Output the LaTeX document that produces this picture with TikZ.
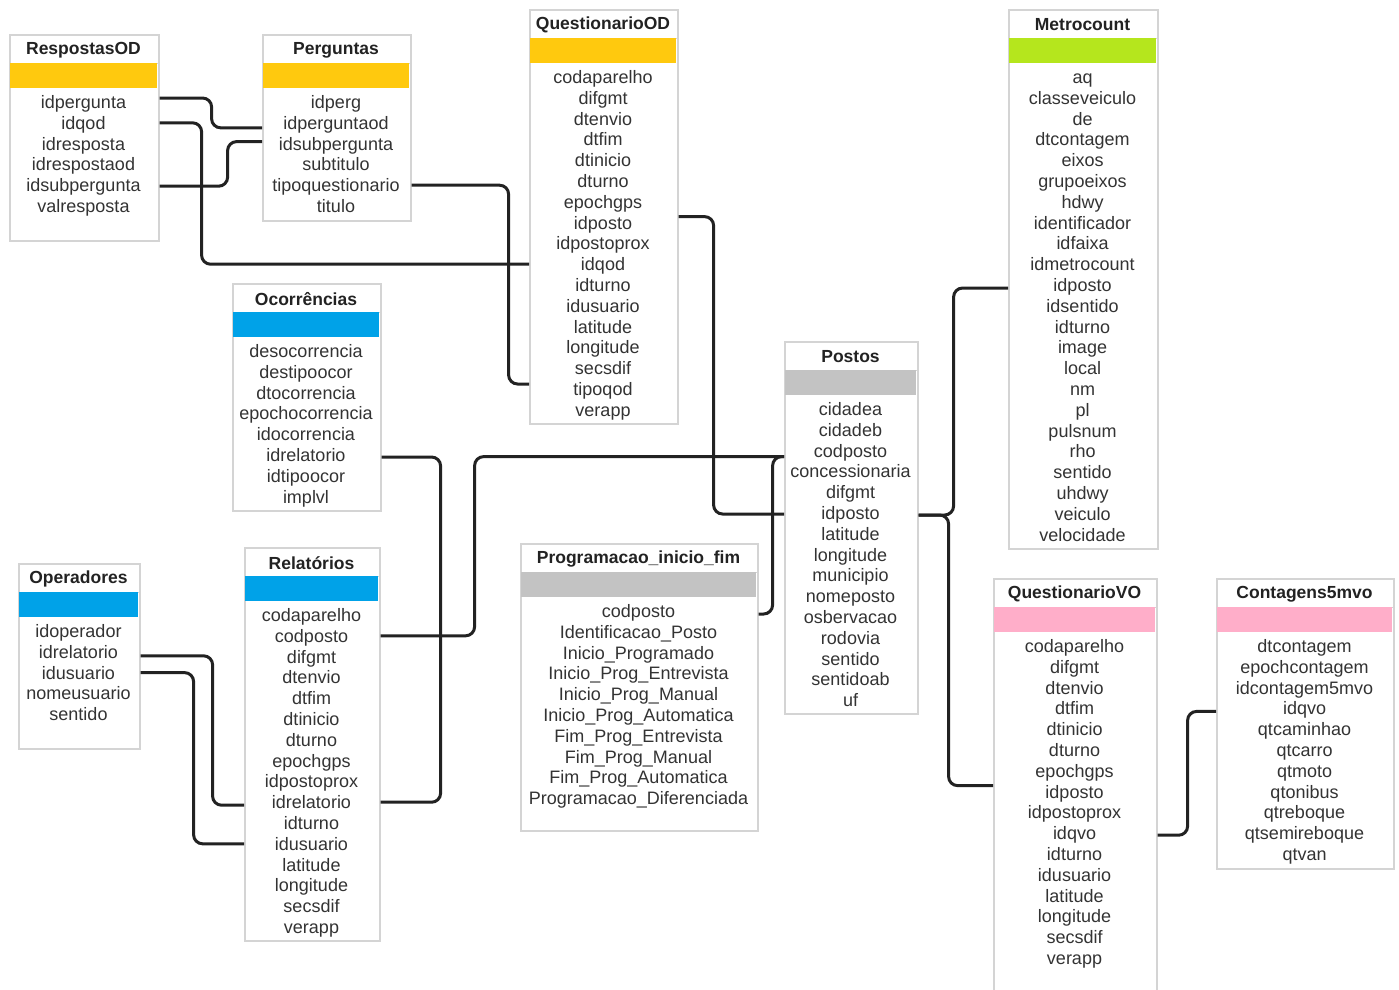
\documentclass[tikz,border=0pt]{standalone}
\usepackage{fontspec}
\setmainfont{Liberation Sans}
\usetikzlibrary{calc}

\definecolor{gold}{HTML}{FFC90E}
\definecolor{lime}{HTML}{B5E61D}
\definecolor{sky}{HTML}{00A2E8}
\definecolor{silver}{HTML}{C3C3C3}
\definecolor{rose}{HTML}{FFAEC9}
\definecolor{frame}{HTML}{D4D4D4}
\definecolor{ink}{HTML}{222222}
\definecolor{fieldtext}{HTML}{333333}

\tikzset{
  tblbox/.style={draw=frame, line width=1.6pt, fill=white, inner sep=0pt},
  tbltitle/.style={font=\fontsize{17.5}{20}\selectfont\bfseries, text=ink, inner sep=0pt,
                   yshift=-2pt},
  fld/.style={font=\fontsize{18}{20}\selectfont, text=fieldtext, inner sep=0pt,
              text height=15pt, text depth=2pt},
  sepline/.style={draw=frame, line width=1pt},
  conn/.style={draw=ink, line width=3pt, rounded corners=9pt},
}

% \dbtable{name}{left}{top}{right}{bottom}{band colour}{title}{fields}
\newcommand\dbtable[8]{%
  \node[tblbox, anchor=north west, minimum width={#4pt-#2pt},
        minimum height={#5pt-#3pt}] (#1) at (#2,#3) {};
  \draw[sepline] (#2,#3+29) -- (#4,#3+29);
  \fill[#6] (#2+1,#3+29) rectangle (#4-1,#3+54);
  \node[tbltitle] (#1-t) at ({(#2+#4)/2},#3+14) {#7};
  \foreach \fieldname [count=\rownum] in {#8}
    \node[fld] (#1-\rownum) at ({(#2+#4)/2},{#3+68+20.8*(\rownum-1)}) {\fieldname};
}

\begin{document}
\begin{tikzpicture}[x=1pt, y=-1pt]
\useasboundingbox (0,0) rectangle (1399,989);
\fill[white] (0,0) rectangle (1399,989);

\dbtable{RO}{9}{34}{158}{240}{gold}{RespostasOD}%
  {idpergunta,idqod,idresposta,idrespostaod,idsubpergunta,valresposta}
\dbtable{P}{262}{34}{410}{220}{gold}{Perguntas}%
  {idperg,idperguntaod,idsubpergunta,subtitulo,tipoquestionario,titulo}
\dbtable{QOD}{529}{9}{677}{423}{gold}{QuestionarioOD}%
  {codaparelho,difgmt,dtenvio,dtfim,dtinicio,dturno,epochgps,idposto,idpostoprox,
   idqod,idturno,idusuario,latitude,longitude,secsdif,tipoqod,verapp}
\dbtable{MC}{1008}{9}{1157}{548}{lime}{Metrocount}%
  {aq,classeveiculo,de,dtcontagem,eixos,grupoeixos,hdwy,identificador,idfaixa,
   idmetrocount,idposto,idsentido,idturno,image,local,nm,pl,pulsnum,rho,sentido,
   uhdwy,veiculo,velocidade}
\dbtable{PO}{784}{341}{917}{713}{silver}{Postos}%
  {cidadea,cidadeb,codposto,concessionaria,difgmt,idposto,latitude,longitude,
   municipio,nomeposto,osbervacao,rodovia,sentido,sentidoab,uf}
\dbtable{OC}{232}{283}{380}{510}{sky}{Ocorrências}%
  {desocorrencia,destipoocor,dtocorrencia,epochocorrencia,idocorrencia,
   idrelatorio,idtipoocor,implvl}
\dbtable{OP}{18}{563}{139}{748}{sky}{Operadores}%
  {idoperador,idrelatorio,idusuario,nomeusuario,sentido}
\dbtable{REL}{244}{547}{379}{940}{sky}{Relatórios}%
  {codaparelho,codposto,difgmt,dtenvio,dtfim,dtinicio,dturno,epochgps,idpostoprox,
   idrelatorio,idturno,idusuario,latitude,longitude,secsdif,verapp}
\dbtable{PG}{520}{543}{757}{830}{silver}{Programacao\_inicio\_fim}%
  {codposto,Identificacao\_Posto,Inicio\_Programado,Inicio\_Prog\_Entrevista,
   Inicio\_Prog\_Manual,Inicio\_Prog\_Automatica,Fim\_Prog\_Entrevista,
   Fim\_Prog\_Manual,Fim\_Prog\_Automatica,Programacao\_Diferenciada}
\dbtable{QVO}{993}{578}{1156}{995}{rose}{QuestionarioVO}%
  {codaparelho,difgmt,dtenvio,dtfim,dtinicio,dturno,epochgps,idposto,idpostoprox,
   idqvo,idturno,idusuario,latitude,longitude,secsdif,verapp}
\dbtable{CT}{1216}{578}{1393}{868}{rose}{Contagens5mvo}%
  {dtcontagem,epochcontagem,idcontagem5mvo,idqvo,qtcaminhao,qtcarro,qtmoto,
   qtonibus,qtreboque,qtsemireboque,qtvan}

% relationships
\draw[conn] ($(RO-1 -| RO.east)+(0,-4)$) -- ++(52,0) |- ($(P-2 -| P.west)+(0,5)$);
\draw[conn] ($(RO-5 -| RO.east)+(0,1)$) -- ++(68,0) |- ($(P-3 -| P.west)+(0,-2)$);
\draw[conn] (RO-2 -| RO.east) -- ++(42,0) |- (QOD-10 -| QOD.west);
\draw[conn] (P-5 -| P.east) -- ++(97,0) |- ($(QOD-16 -| QOD.west)+(0,-5)$);
\draw[conn] ($(QOD-8 -| QOD.east)+(0,-6)$) -- ++(35,0) |- ($(PO-6 -| PO.west)+(0,1)$);
\draw[conn] (REL-2 -| REL.east) -- ++(94,0) |- ($(PO-3 -| PO.west)+(0,6)$);
\draw[conn] ($(PG-1 -| PG.east)+(0,3)$) -- ++(14,0) |- ($(PO-3 -| PO.west)+(0,6)$);
\draw[conn] ($(OC-6 -| OC.east)+(0,2)$) -- ++(59,0) |- (REL-10 -| REL.east);
\draw[conn] ($(OP-2 -| OP.east)+(0,4)$) -- ++(72,0) |- ($(REL-10 -| REL.west)+(0,3)$);
\draw[conn] (OP-3 -| OP.east) -- ++(53,0) |- (REL-12 -| REL.west);
\draw[conn] ($(PO-6 -| PO.east)+(0,2)$) -- ++(35,0) |- ($(MC-11 -| MC.west)+(0,3)$);
\draw[conn] ($(PO-6 -| PO.east)+(0,2)$) -- ++(30,0) |- ($(QVO-8 -| QVO.west)+(0,-6)$);
\draw[conn] ($(QVO-10 -| QVO.east)+(0,2)$) -- ++(30,0) |- ($(CT-4 -| CT.west)+(0,3)$);
\end{tikzpicture}
\end{document}
